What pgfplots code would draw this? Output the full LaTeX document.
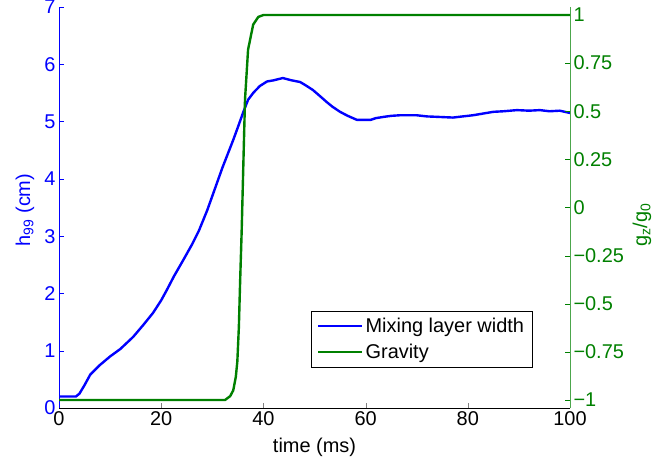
\documentclass[border=0pt]{standalone}
\usepackage{fontspec}
\setmainfont{Liberation Sans}
\usepackage{pgfplots}
\pgfplotsset{compat=1.18}
\definecolor{mgreen}{rgb}{0,0.5,0}
\newcommand{\ff}{\fontsize{20}{24}\selectfont}
\begin{document}
\begin{tikzpicture}
\path[use as bounding box] (-59bp,-57bp) rectangle (595bp,408bp);
\pgfplotsset{every axis/.append style={
  /pgf/number format/assume math mode=true,
  scale only axis, width=511bp, height=401bp,
  at={(0,0)}, anchor=south west,
  xmin=0, xmax=100,
  tick label style={font=\ff},
  label style={font=\ff},
  major tick length=5bp,
  tick align=inside,
}}
\begin{axis}[
  axis x line*=bottom, axis y line*=left,
  ymin=0, ymax=7,
  xtick={0,20,40,60,80,100},
  ytick={0,1,2,3,4,5,6,7},
  y axis line style={blue},
  ytick style={blue},
  yticklabel style={blue},
  xlabel={time (ms)},
  xlabel style={at={(axis description cs:0.5,-0.097)}, anchor=center},
]
\addplot[blue, line width=2.4bp] coordinates {
(0,0.2)(3.3,0.2)(4,0.25)(5,0.4)(6.1,0.58)(8,0.75)(10,0.9)(12,1.03)(14.5,1.24)(16.5,1.45)(18.4,1.66)(20,1.88)(21.1,2.06)(22.5,2.3)(24.3,2.58)(26,2.85)(27.4,3.1)(29,3.45)(30.2,3.75)(32,4.2)(34.1,4.68)(35,4.9)(36,5.15)(37,5.38)(38,5.5)(39.3,5.62)(40.7,5.7)(42,5.72)(43.8,5.76)(45.5,5.72)(47.2,5.69)(48.5,5.62)(49.7,5.55)(51,5.45)(52.4,5.34)(53.5,5.26)(55,5.17)(56.5,5.1)(58.3,5.03)(61,5.03)(62,5.06)(63.4,5.08)(65,5.1)(66.7,5.11)(68,5.11)(70,5.11)(72,5.09)(74.6,5.08)(77.1,5.07)(79,5.09)(81,5.11)(83,5.14)(85,5.17)(87,5.18)(89.6,5.2)(92,5.19)(94.1,5.2)(96,5.18)(98,5.19)(100,5.15)
};
\end{axis}
\begin{axis}[
  axis x line=none, axis y line*=right,
  ymin=-1.0416, ymax=1.0416,
  ytick={-1,-0.75,-0.5,-0.25,0,0.25,0.5,0.75,1},
  yticklabels={−1,−0.75,−0.5,−0.25,0,0.25,0.5,0.75,1},
  y axis line style={mgreen!70},
  ytick style={mgreen},
  yticklabel style={mgreen},
  legend style={at={(0.926,0.102)}, anchor=south east, font=\ff, draw=black, fill=white,
    inner xsep=6bp, inner ysep=5bp, row sep=6bp, cells={anchor=west}},
  legend image code/.code={\draw[#1] (0bp,0bp) -- (44bp,0bp);},
]
\addlegendimage{blue, line width=2.4bp}
\addlegendentry{Mixing layer width}
\addplot[mgreen, line width=2.4bp] coordinates {
(0,-1)(32.5,-1)(33.5,-0.98)(34.1,-0.95)(34.6,-0.88)(34.9,-0.8)(35.2,-0.62)(35.45,-0.38)(35.75,-0.12)(36.1,0.25)(36.4,0.56)(37,0.82)(38,0.95)(39,0.99)(40,1)(100,1)
};
\addlegendentry{Gravity}
\end{axis}
\node[rotate=90, text=blue, font=\ff, anchor=center] at (-34bp,198bp) {h\textsubscript{99} (cm)};
\node[rotate=90, text=mgreen, font=\ff, anchor=center] at (583bp,183bp) {g\textsubscript{z}/g\textsubscript{0}};
\end{tikzpicture}
\end{document}
